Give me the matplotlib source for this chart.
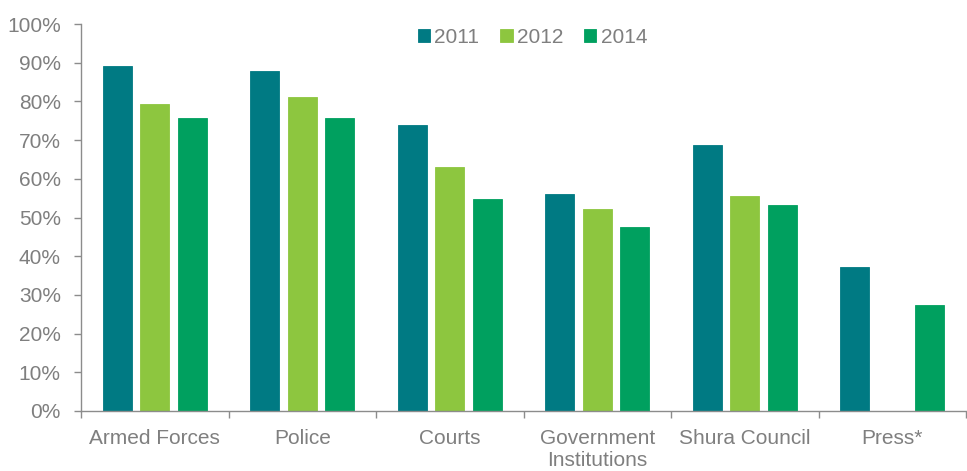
import matplotlib
matplotlib.use("Agg")
import matplotlib.pyplot as plt
import numpy as np
from matplotlib.ticker import FixedLocator, PercentFormatter

categories = ["Armed Forces", "Police", "Courts", "Government\nInstitutions", "Shura Council", "Press*"]
series_names = ["2011", "2012", "2014"]
v2011 = [89.1, 87.8, 73.9, 56.0, 68.7, 37.1]
v2012 = [79.3, 81.1, 63.1, 52.2, 55.6, None]
v2014 = [75.8, 75.7, 54.7, 47.5, 53.2, 27.3]
colors = ["#007A83", "#8DC63F", "#00A05F"]
yticks = [0, 10, 20, 30, 40, 50, 60, 70, 80, 90, 100]

plt.rcParams['font.family'] = ['Liberation Sans', 'DejaVu Sans']
txt = "#7F7F7F"
spine_c = "#8C8C8C"
fs = 15

fig = plt.figure(figsize=(9.67, 4.71), dpi=100)
ax = fig.add_axes([81/967, 60/471, 885/967, 387/471])

x = np.arange(len(categories))
step = 0.2545
width = 0.194
handles = []
for i, (name, vals, c) in enumerate(zip(series_names, [v2011, v2012, v2014], colors)):
    xs = [xi + (i - 1) * step for xi, v in zip(x, vals) if v is not None]
    hs = [v for v in vals if v is not None]
    b = ax.bar(xs, hs, width=width, color=c, label=name, edgecolor=c, linewidth=0.6, zorder=2)
    handles.append(b)

ax.set_ylim(0, 100)
ax.set_xlim(-0.5, 5.426)
ax.yaxis.set_major_locator(FixedLocator(yticks))
ax.yaxis.set_major_formatter(PercentFormatter(decimals=0))

ax.set_xticks(x)
ax.set_xticklabels(categories)
ax.set_xticks(np.arange(-0.5, 5.6, 1.0), minor=True)
ax.tick_params(axis='x', which='major', length=0, pad=13, labelsize=fs, labelcolor=txt)
ax.tick_params(axis='x', which='minor', length=5, width=1.0, color=spine_c, direction='out')
ax.tick_params(axis='y', which='major', length=5, width=1.0, color=spine_c, pad=9.5,
               labelsize=fs, labelcolor=txt, direction='out')

for s in ['top', 'right']:
    ax.spines[s].set_visible(False)
for s in ['left', 'bottom']:
    ax.spines[s].set_color(spine_c)
    ax.spines[s].set_linewidth(1.0)

leg = ax.legend(handles=handles, labels=series_names, loc='center', bbox_to_anchor=(0.51, 0.966),
                ncol=3, frameon=False, fontsize=fs, handlelength=0.6, handleheight=0.6,
                handletextpad=0.2, columnspacing=1.0, borderpad=0, borderaxespad=0)
for t in leg.get_texts():
    t.set_color(txt)

fig.savefig("out.png", dpi=100)
